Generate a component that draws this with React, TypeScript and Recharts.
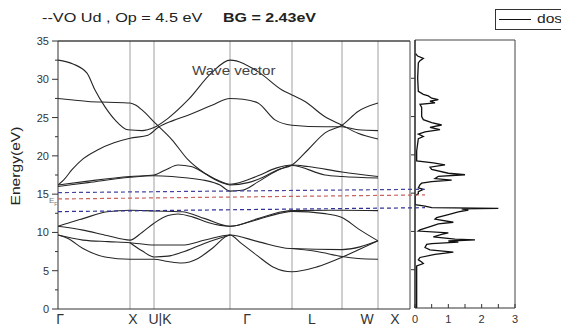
import { LineChart, Line, XAxis, YAxis, ReferenceLine } from "recharts"

const FONT = "'Liberation Sans', Arial, sans-serif"

// k-path: symmetry points (k distance) and where the axis labels sit
const symK = [0, 72, 96, 172, 234, 284, 320]
const kEnd = 352
const kTickPos = [2, 75, 102, 189, 254, 309, 337]
const kTickLabels = ["Γ", "X", "U|K", "Γ", "L", "W", "X"]

const energyTicks = [0, 2.5, 5, 7.5, 10, 12.5, 15, 17.5, 20, 22.5, 25, 27.5, 30, 32.5, 35]

// bands: [k, E(eV)]
const bandA = [[0, 32.5], [15, 32.0], [29, 30.8], [37, 28.6], [47, 26.4], [57, 24.7], [70, 23.4], [84, 23.3], [96, 23.7], [110, 24.9], [130, 27.3], [154, 30.9], [172, 32.5], [200, 31.0], [224, 28.6], [234, 27.95], [247, 27.1], [267, 25.1], [284, 24.0], [300, 22.95], [320, 22.2]]
const bandB = [[0, 27.5], [15, 27.3], [30, 27.1], [50, 27.0], [72, 26.9], [78, 26.6], [84, 26.0], [97, 24.3], [114, 22.1], [130, 19.5], [147, 17.7], [164, 16.5], [172, 16.2], [190, 16.5], [205, 17.2], [220, 18.2], [234, 18.8], [250, 20.8], [267, 23.0], [284, 24.0], [300, 25.8], [320, 26.9]]
const bandD = [[0, 16.2], [6, 16.9], [14, 18.2], [25, 19.6], [40, 20.8], [56, 21.7], [72, 22.3], [90, 22.7], [100, 23.7], [115, 24.6], [130, 25.3], [154, 26.6], [172, 27.5], [185, 27.4], [200, 26.9], [217, 24.7], [234, 24.0], [267, 23.8], [284, 23.8], [300, 23.4], [320, 23.3]]
const bandE1 = [[0, 16.2], [30, 16.7], [72, 17.3], [96, 17.5], [108, 18.2], [120, 18.8], [133, 18.6], [147, 17.7], [160, 16.8], [172, 16.3], [200, 17.4], [218, 18.4], [234, 18.8], [250, 18.6], [284, 17.9], [320, 17.3]]
const bandE2 = [[0, 16.0], [30, 16.5], [72, 17.2], [96, 17.4], [114, 17.3], [130, 17.1], [147, 16.8], [162, 16.2], [172, 15.4], [184, 15.5], [200, 16.6], [218, 18.0], [234, 18.75], [267, 17.5], [284, 17.3], [320, 17.1]]
const bandV1 = [[0, 10.8], [12, 11.3], [25, 11.8], [49, 12.7], [72, 12.9], [96, 12.8], [124, 12.7], [147, 11.8], [172, 10.8], [200, 11.8], [224, 12.7], [234, 12.85], [284, 12.9], [320, 12.85]]
const bandV2 = [[0, 10.8], [25, 10.3], [49, 9.6], [72, 9.0], [84, 10.0], [96, 11.2], [110, 12.2], [120, 12.4], [135, 12.0], [150, 11.3], [172, 10.8], [200, 11.7], [224, 12.55], [234, 12.75], [267, 12.45], [284, 11.95], [300, 10.5], [320, 8.9]]
const bandL1 = [[0, 9.66], [25, 9.0], [50, 8.8], [72, 8.66], [96, 8.36], [124, 8.35], [147, 9.0], [172, 9.66], [200, 8.8], [232, 7.9], [284, 7.75], [320, 8.9]]
const bandL2 = [[0, 9.66], [10, 9.2], [25, 7.9], [47, 6.8], [72, 6.5], [96, 6.5], [110, 6.2], [124, 6.0], [140, 6.6], [155, 8.0], [172, 9.66], [183, 8.6], [199, 7.0], [215, 5.5], [234, 4.87], [259, 5.5], [284, 6.75], [300, 7.7], [320, 8.9]]
const bandL3 = [[72, 8.66], [84, 7.6], [96, 6.8], [110, 6.9], [124, 7.4], [147, 8.6], [172, 9.66]]
const bandR3 = [[234, 7.9], [259, 7.5], [284, 6.85], [300, 6.6], [320, 6.5]]

const bands = [bandA, bandB, bandD, bandE1, bandE2, bandV1, bandV2, bandL1, bandL2, bandL3, bandR3]

// band edges / Fermi level (left end, right end)
const cbmLine = [15.2, 15.64]
const efLine = [14.37, 14.9]
const vbmLine = [12.72, 13.23]

// density of states: [E, dos]
const dos = [
  [33.2, 0.02], [32.9, 0.08], [32.6, 0.25], [32.3, 0.15], [32.0, 0.1], [30.0, 0.08], [28.3, 0.1],
  [27.9, 0.25], [27.7, 0.4], [27.4, 0.5], [27.2, 0.7], [27.0, 0.45], [26.8, 0.6], [26.6, 0.15],
  [26.2, 0.2], [25.0, 0.2], [24.6, 0.25], [24.2, 0.5], [23.9, 0.8], [23.6, 0.45], [23.3, 0.75],
  [23.0, 0.3], [22.7, 0.1], [22.4, 0.25], [22.1, 0.1], [20.5, 0.05], [19.2, 0.05], [18.95, 0.55],
  [18.7, 0.9], [18.4, 0.45], [18.1, 0.5], [17.6, 1.0], [17.4, 1.5], [17.2, 0.7], [16.9, 0.6],
  [16.7, 1.1], [16.5, 0.5], [16.3, 0.2], [16.1, 0.15], [15.7, 0.1], [15.5, 0.25], [15.2, 0.1],
  [14.9, 0.1], [14.7, 0.0], [13.5, 0.0], [13.3, 0.3], [13.1, 0.5], [13.0, 2.5], [12.95, 1.4],
  [12.8, 1.6], [12.55, 1.3], [12.2, 1.0], [11.8, 0.65], [11.6, 0.6], [11.2, 1.15], [11.0, 0.7],
  [10.7, 0.5], [10.2, 0.15], [10.05, 0.1], [9.8, 1.0], [9.6, 0.8], [9.3, 0.55], [9.0, 1.2],
  [8.9, 1.8], [8.75, 1.0], [8.6, 1.3], [8.4, 0.5], [8.3, 0.35], [7.9, 0.3], [7.6, 0.45],
  [7.3, 1.15], [7.0, 0.6], [6.6, 0.15], [6.3, 0.1], [6.0, 0.2], [5.8, 0.25], [5.5, 0.05], [0, 0.05],
]
const dosTicks = [0, 0.5, 1, 1.5, 2, 2.5, 3]
const dosYTicks = [5, 10, 15, 20, 25, 30]

const toPts = (arr: number[][]) => arr.map(([k, e]) => ({ k, e }))
const dosPts = dos.map(([e, d]) => ({ e, dos: d }))

function ETick(p: any) {
  const v = p.payload.value
  const major = v % 5 === 0
  return (
    <g>
      <line x1={p.x - (major ? 6 : 3)} x2={p.x} y1={p.y} y2={p.y} stroke="#333" />
      {major && (
        <text x={p.x - 9} y={p.y + 4} textAnchor="end" fontSize={11} fill="#333" fontFamily={FONT}>
          {v}
        </text>
      )}
    </g>
  )
}

function KTick(p: any) {
  return (
    <text x={p.x} y={p.y + 15} textAnchor="middle" fontSize={14} fill="#333" fontFamily={FONT}>
      {kTickLabels[p.index]}
    </text>
  )
}

function DosXTick(p: any) {
  const v = p.payload.value
  return (
    <g>
      <line x1={p.x} x2={p.x} y1={p.y} y2={p.y - 4} stroke="#333" />
      {Number.isInteger(v) && (
        <text x={p.x} y={p.y + 15} textAnchor="middle" fontSize={11} fill="#333" fontFamily={FONT}>
          {v}
        </text>
      )}
    </g>
  )
}

function DosYTick(p: any) {
  return <line x1={p.x - 4} x2={p.x} y1={p.y} y2={p.y} stroke="#333" />
}

const abs = { position: "absolute" as const, left: 0, top: 0 }

export default function App() {
  return (
    <div style={{ position: "absolute", left: 0, top: 0, width: 561, height: 326, background: "#fff", overflow: "hidden", fontFamily: FONT, color: "#222" }}>
      <div style={abs}>
        <LineChart width={561} height={326} margin={{ top: 41, right: 151, bottom: 0, left: 18 }}>
          <XAxis type="number" dataKey="k" domain={[0, kEnd]} ticks={kTickPos} interval={0} tick={KTick} tickLine={false} tickSize={0} tickMargin={0} height={17} axisLine={{ stroke: "#333" }} allowDataOverflow />
          <YAxis type="number" domain={[0, 35]} ticks={energyTicks} interval={0} tick={ETick} tickLine={false} tickSize={0} tickMargin={0} width={40} axisLine={{ stroke: "#333" }} allowDataOverflow />
          {symK.slice(1).map((k) => (
            <ReferenceLine key={k} x={k} stroke="#a0a0a0" />
          ))}
          <ReferenceLine y={35} stroke="#444" strokeWidth={1.5} />
          <ReferenceLine x={kEnd} stroke="#444" />
          {bands.map((b, i) => (
            <Line key={i} data={toPts(b)} dataKey="e" type="monotone" stroke="#262626" strokeWidth={1.1} dot={false} isAnimationActive={false} />
          ))}
        </LineChart>
      </div>

      <div style={abs}>
        <LineChart layout="vertical" data={dosPts} width={561} height={326} margin={{ top: 40, right: 46, bottom: 0, left: 411 }}>
          <XAxis type="number" domain={[0, 3]} ticks={dosTicks} interval={0} tick={DosXTick} tickLine={false} tickSize={0} tickMargin={0} height={18} axisLine={{ stroke: "#333" }} allowDataOverflow />
          <YAxis type="number" dataKey="e" domain={[0, 35]} reversed ticks={dosYTicks} interval={0} tick={DosYTick} tickLine={false} tickSize={0} tickMargin={0} width={4} axisLine={{ stroke: "#222", strokeWidth: 1.5 }} allowDataOverflow />
          <ReferenceLine y={35} stroke="#444" />
          <ReferenceLine x={3} stroke="#444" />
          <Line dataKey="dos" name="dos" type="linear" stroke="#111" strokeWidth={1.3} dot={false} isAnimationActive={false} />
        </LineChart>
      </div>

      <div style={abs}>
        <LineChart width={561} height={326} margin={{ top: 41, right: 136, bottom: 17, left: 58 }}>
          <XAxis type="number" dataKey="x" domain={[0, 1]} hide />
          <YAxis type="number" domain={[0, 35]} hide />
          <Line data={[{ x: 0, e: cbmLine[0] }, { x: 1, e: cbmLine[1] }]} dataKey="e" stroke="#4545a0" strokeWidth={1.2} strokeDasharray="4 3" dot={false} isAnimationActive={false} />
          <Line data={[{ x: 0, e: efLine[0] }, { x: 1, e: efLine[1] }]} dataKey="e" stroke="#c8645c" strokeWidth={1.2} strokeDasharray="4 3" dot={false} isAnimationActive={false} />
          <Line data={[{ x: 0, e: vbmLine[0] }, { x: 1, e: vbmLine[1] }]} dataKey="e" stroke="#30309a" strokeWidth={1.2} strokeDasharray="4 3" dot={false} isAnimationActive={false} />
        </LineChart>
      </div>

      <div style={{ position: "absolute", left: 42, top: 12, fontSize: 12.5, lineHeight: 1, whiteSpace: "nowrap", transform: "scaleX(1.3)", transformOrigin: "left top" }}>
        --VO Ud , Op = 4.5 eV
      </div>
      <div style={{ position: "absolute", left: 223, top: 12, fontSize: 12.5, lineHeight: 1, fontWeight: "bold", whiteSpace: "nowrap", transform: "scaleX(1.28)", transformOrigin: "left top" }}>
        BG = 2.43eV
      </div>
      <div style={{ position: "absolute", left: 192, top: 64, fontSize: 13.5, lineHeight: 1, color: "#444", whiteSpace: "nowrap", transform: "scaleX(1.12)", transformOrigin: "left top" }}>
        Wave vector
      </div>
      <div style={{ position: "absolute", left: 16, top: 166, fontSize: 12, lineHeight: 1, whiteSpace: "nowrap", transform: "translate(-50%, -50%) rotate(-90deg) scaleX(1.3)" }}>
        Energy(eV)
      </div>
      <div style={{ position: "absolute", left: 49, top: 197, fontSize: 8, lineHeight: 1, color: "#777" }}>
        E<sub style={{ fontSize: 5 }}>F</sub>
      </div>

      <div style={{ position: "absolute", left: 495, top: 9, width: 90, height: 21, border: "1px solid #333", boxSizing: "border-box" }}>
        <div style={{ position: "absolute", left: 3, top: 9, width: 32, height: 1, background: "#111" }} />
        <div style={{ position: "absolute", left: 41, top: 2, fontSize: 13, lineHeight: 1, transform: "scaleX(1.2)", transformOrigin: "left top" }}>dos</div>
      </div>
    </div>
  )
}
